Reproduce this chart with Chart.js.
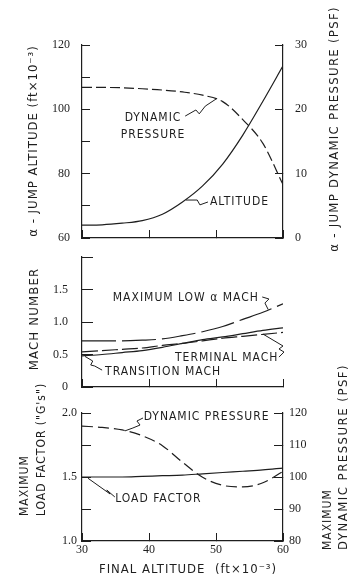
<!DOCTYPE html>
<html>
<head>
<meta charset="utf-8">
<script src="https://cdn.jsdelivr.net/npm/chart.js@4.4.0/dist/chart.umd.min.js"></script>
<style>
  body { margin: 0; background: #fff; }
  #wrap { position: relative; width: 359px; height: 582px; }
  #wrap canvas { position: absolute; left: 0; top: 0; }
</style>
</head>
<body>
<div id="wrap">
  <canvas id="topChart" width="359" height="582"></canvas>
  <canvas id="machChart" width="359" height="582"></canvas>
  <canvas id="loadChart" width="359" height="582"></canvas>
</div>
<script>
// final altitude (ft x 10^-3), shared by all three panels
const altitudes = [30, 33, 36, 39, 42, 45, 48, 51, 54, 57, 60];

// top panel
const jumpAltitude = [64.0, 64.1, 64.6, 65.4, 67.4, 71.2, 76.2, 83.0, 92.0, 102.5, 113.5];
const jumpDynPressure = [23.4, 23.4, 23.35, 23.2, 23.0, 22.7, 22.2, 21.2, 18.4, 14.7, 8.3];

// middle panel
const maxLowAlphaMach = [0.71, 0.71, 0.71, 0.72, 0.74, 0.79, 0.85, 0.93, 1.04, 1.15, 1.28];
const terminalMach = [0.54, 0.56, 0.58, 0.60, 0.64, 0.67, 0.71, 0.75, 0.78, 0.81, 0.84];
const transitionMach = [0.48, 0.50, 0.53, 0.56, 0.61, 0.67, 0.73, 0.77, 0.82, 0.87, 0.91];

// bottom panel
const loadFactor = [1.50, 1.50, 1.50, 1.505, 1.51, 1.515, 1.525, 1.535, 1.545, 1.555, 1.57];
const maxDynPressure = [115.9, 115.5, 114.7, 112.9, 109.8, 104.6, 99.9, 97.4, 96.9, 98.2, 101.7];

// tick labels
const altitudeTicks = [30, 40, 50, 60];
const jumpAltLabels = [60, 80, 100, 120];
const machLabels = ['0', '0.5', '1.0', '1.5'];
const loadLabels = ['1.0', '1.5', '2.0'];

const ink = '#1e1e1e';
const letterFont = "'DejaVu Sans Condensed', 'Liberation Sans Narrow', 'DejaVu Sans', sans-serif";
Chart.defaults.font.family = "'Liberation Serif', serif";
Chart.defaults.font.size = 12;
Chart.defaults.color = ink;

const pts = (ys) => altitudes.map((x, i) => ({ x: x, y: ys[i] }));

function line(data, dash, axis) {
    return {
        data: pts(data),
        yAxisID: axis || 'y',
        borderColor: ink,
        borderWidth: 1.2,
        borderDash: dash || [],
        pointRadius: 0,
        cubicInterpolationMode: 'monotone',
        fill: false
    };
}

// x axis, bottom edge of the plot at `bottom` px
function xAxis(bottom, showLabels) {
    return {
        type: 'linear', min: 30, max: 60,
        afterBuildTicks: (s) => { s.ticks = altitudeTicks.map(v => ({ value: v })); },
        afterFit: (s) => { s.height = 582 - bottom; },
        ticks: {
            padding: 10, maxRotation: 0,
            callback: (v) => showLabels ? String(v) : ''
        },
        grid: { drawOnChartArea: false, tickLength: -8, color: ink },
        border: { color: ink, width: 1.2 }
    };
}

function yAxis(position, min, max, step, width, tickLen, pad, cb) {
    return {
        type: 'linear', position: position, min: min, max: max,
        afterFit: (s) => { s.width = width; },
        ticks: { stepSize: step, padding: pad, callback: cb },
        grid: { drawOnChartArea: false, tickLength: tickLen, color: ink },
        border: { color: ink, width: 1.2 }
    };
}

// curve labels, leader lines and axis titles
const notes = {
    id: 'notes',
    afterDatasetsDraw(chart, args, opts) {
        const ctx = chart.ctx;
        const xs = chart.scales.x;
        ctx.save();
        ctx.fillStyle = ink;
        ctx.strokeStyle = ink;
        ctx.lineWidth = 1;
        ctx.letterSpacing = '1px';
        ctx.font = '12px ' + letterFont;
        ctx.textBaseline = 'middle';

        (opts.labels || []).forEach(l => {
            const ys = chart.scales[l.axis || 'y'];
            ctx.textAlign = l.align || 'center';
            l.text.forEach((t, i) => {
                ctx.fillText(t, xs.getPixelForValue(l.x), ys.getPixelForValue(l.y) + i * 17);
            });
        });

        (opts.leaders || []).forEach(path => {
            const ys = chart.scales.y;
            ctx.beginPath();
            path.forEach((p, i) => {
                const px = xs.getPixelForValue(p[0]), py = ys.getPixelForValue(p[1]);
                if (i === 0) ctx.moveTo(px, py); else ctx.lineTo(px, py);
            });
            ctx.stroke();
        });

        (opts.titles || []).forEach(t => {
            ctx.save();
            ctx.font = (t.size || 13) + 'px ' + letterFont;
            ctx.letterSpacing = (t.spacing || 1) + 'px';
            ctx.translate(t.x, t.y);
            ctx.rotate((t.rot || 0) * Math.PI / 180);
            ctx.textAlign = t.align || 'center';
            ctx.fillText(t.text, 0, 0);
            ctx.restore();
        });
        ctx.restore();
    }
};

const base = {
    responsive: false,
    animation: false,
    plugins: { legend: { display: false }, tooltip: { enabled: false } }
};

// top panel: alpha-jump altitude and dynamic pressure
new Chart(document.getElementById('topChart'), {
    type: 'line',
    data: {
        datasets: [
            line(jumpAltitude, [], 'y'),
            line(jumpDynPressure, [10, 4], 'y1')
        ]
    },
    options: Object.assign({}, base, {
        layout: { padding: { top: 45 } },
        scales: {
            x: xAxis(238, false),
            y: yAxis('left', 60, 120, 10, 82, -8, 20,
                (v) => jumpAltLabels.includes(v) ? String(v) : ''),
            y1: yAxis('right', 0, 30, 10, 76, -8, 20, (v) => String(v))
        },
        plugins: Object.assign({}, base.plugins, {
            notes: {
                labels: [
                    { text: ['DYNAMIC', 'PRESSURE'], x: 40.6, y: 97.3 },
                    { text: ['ALTITUDE'], x: 49.1, y: 71.2, align: 'left' }
                ],
                leaders: [
                    [[45.4, 97.9], [47.0, 99.8], [47.5, 98.6], [48.4, 101.0], [50.0, 103.2]],
                    [[48.8, 71.2], [47.6, 70.3], [47.2, 71.8], [45.5, 71.8]]
                ],
                titles: [
                    { text: 'α - JUMP ALTITUDE (ft×10⁻³)', x: 34, y: 141, rot: -90 },
                    { text: 'α - JUMP DYNAMIC PRESSURE (PSF)', x: 335, y: 129, rot: -90, spacing: 1.3 }
                ]
            }
        })
    }),
    plugins: [notes]
});

// middle panel: Mach numbers
new Chart(document.getElementById('machChart'), {
    type: 'line',
    data: {
        datasets: [
            line(maxLowAlphaMach, [34, 6]),
            line(terminalMach, [16, 4]),
            line(transitionMach, [])
        ]
    },
    options: Object.assign({}, base, {
        layout: { padding: { top: 257, right: 76 } },
        scales: {
            x: xAxis(387, false),
            y: yAxis('left', 0, 2, 0.5, 82, -11, 25, (v, i) => machLabels[i] || '')
        },
        plugins: Object.assign({}, base.plugins, {
            notes: {
                labels: [
                    { text: ['MAXIMUM LOW α MACH'], x: 45.5, y: 1.369 },
                    { text: ['TERMINAL MACH'], x: 51.6, y: 0.446 },
                    { text: ['TRANSITION MACH'], x: 42.1, y: 0.231 }
                ],
                leaders: [
                    [[56.9, 1.385], [57.9, 1.354], [57.3, 1.292], [57.8, 1.19]],
                    [[59.4, 0.46], [60.15, 0.538], [59.4, 0.585], [60.0, 0.631], [57.0, 0.815]],
                    [[33.0, 0.26], [31.9, 0.323], [31.3, 0.338], [31.6, 0.4], [30.45, 0.47]]
                ],
                titles: [
                    { text: 'MACH NUMBER', x: 35, y: 319, rot: -90, spacing: 1.2 }
                ]
            }
        })
    }),
    plugins: [notes]
});

// bottom panel: maximum load factor and dynamic pressure
new Chart(document.getElementById('loadChart'), {
    type: 'line',
    data: {
        datasets: [
            line(loadFactor, [], 'y'),
            line(maxDynPressure, [11, 5], 'y1')
        ]
    },
    options: Object.assign({}, base, {
        layout: { padding: { top: 413 } },
        scales: {
            x: xAxis(541, true),
            y: yAxis('left', 1, 2, 0.25, 82, -9, 14,
                (v) => loadLabels.includes(v.toFixed(1)) && (v * 2) % 1 === 0 ? v.toFixed(1) : ''),
            y1: yAxis('right', 80, 120, 10, 76, -9, 15, (v) => String(v))
        },
        plugins: Object.assign({}, base.plugins, {
            notes: {
                labels: [
                    { text: ['DYNAMIC PRESSURE'], x: 48.6, y: 1.969 },
                    { text: ['LOAD FACTOR'], x: 41.4, y: 1.328 }
                ],
                leaders: [
                    [[39.1, 1.961], [38.2, 1.9375], [38.66, 1.906], [37.6, 1.883], [36.4, 1.86]],
                    [[34.9, 1.344], [33.7, 1.398], [34.2, 1.367], [30.9, 1.49]]
                ],
                titles: [
                    { text: 'MAXIMUM', x: 25, y: 516, rot: -90, align: 'left', size: 12 },
                    { text: 'LOAD FACTOR ("G\'s")', x: 42, y: 516, rot: -90, align: 'left', size: 12 },
                    { text: 'MAXIMUM', x: 328, y: 550, rot: -90, align: 'left', size: 12 },
                    { text: 'DYNAMIC PRESSURE (PSF)', x: 344, y: 550, rot: -90, align: 'left', spacing: 1.5 },
                    { text: 'FINAL ALTITUDE  (ft×10⁻³)', x: 188, y: 570 }
                ]
            }
        })
    }),
    plugins: [notes]
});
</script>
</body>
</html>
